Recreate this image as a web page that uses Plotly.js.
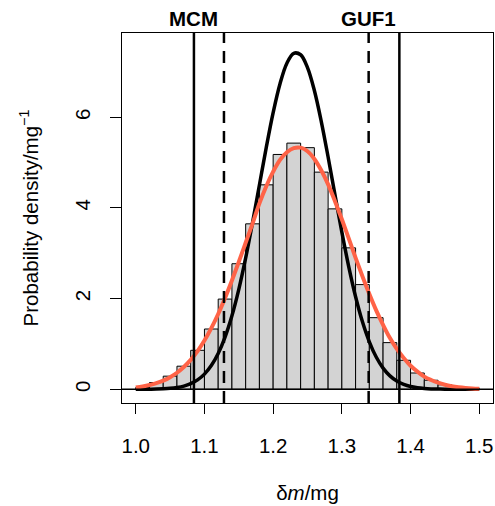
<!DOCTYPE html>
<html>
<head>
<meta charset="utf-8">
<script src="https://cdn.plot.ly/plotly-3.0.1.min.js"></script>
<style>html,body{margin:0;padding:0;background:#fff;}#chart{width:495px;height:506px;}</style>
</head>
<body>
<div id="chart"></div>
<script>
// Histogram bins (left edges) and densities
const binStarts = [1.00,1.02,1.04,1.06,1.08,1.10,1.12,1.14,1.16,1.18,1.20,1.22,1.24,1.26,1.28,1.30,1.32,1.34,1.36,1.38,1.40,1.42,1.44,1.46,1.48];
const binDensity = [0.04,0.15,0.29,0.51,0.86,1.33,1.99,2.77,3.65,4.51,5.18,5.43,5.33,4.79,3.98,3.12,2.31,1.58,1.03,0.64,0.36,0.20,0.10,0.05,0.02];
const binWidth = 0.02;

// Curves
const curveX = [1.00,1.01,1.02,1.03,1.04,1.05,1.06,1.07,1.08,1.09,
                1.10,1.11,1.12,1.13,1.14,1.15,1.16,1.17,1.18,1.19,
                1.20,1.21,1.22,1.23,1.24,1.25,1.26,1.27,1.28,1.29,
                1.30,1.31,1.32,1.33,1.34,1.35,1.36,1.37,1.38,1.39,
                1.40,1.41,1.42,1.43,1.44,1.45,1.46,1.47,1.48,1.49,1.50];
const gufDensity = [0.001,0.001,0.003,0.006,0.011,0.021,0.040,0.071,0.124,0.207,
                    0.335,0.523,0.790,1.151,1.621,2.204,2.897,3.677,4.506,5.335,
                    6.102,6.740,7.193,7.412,7.379,7.096,6.591,5.912,5.124,4.288,
                    3.467,2.708,2.042,1.488,1.048,0.712,0.467,0.296,0.182,0.108,
                    0.061,0.034,0.018,0.009,0.005,0.002,0.001,0.001,0,0,0];
const mcmDensity = [0.043,0.064,0.094,0.135,0.191,0.267,0.365,0.491,0.648,0.842,
                    1.075,1.349,1.662,2.015,2.400,2.811,3.233,3.656,4.10,4.48,
                    4.80,5.06,5.23,5.32,5.33,5.25,5.08,4.83,4.52,4.15,
                    3.75,3.33,2.90,2.49,2.10,1.74,1.42,1.13,0.89,0.69,
                    0.52,0.39,0.28,0.205,0.145,0.10,0.069,0.047,0.031,0.020,0.013];

// Coverage intervals
const mcmInterval = [1.0847, 1.3837];
const gufInterval = [1.1284, 1.3390];
const labels = ["MCM", "GUF1"];

// Ticks
const xTicks = [1.0,1.1,1.2,1.3,1.4,1.5];
const xTickText = ["1.0","1.1","1.2","1.3","1.4","1.5"];
const yTicks = [0,2,4,6];
const yTickText = ["0","2","4","6"];

const FONT = "Liberation Sans, Arial, Helvetica, sans-serif";
const FS = 20.5;

const traces = [
  {
    type: "bar",
    x: binStarts,
    y: binDensity,
    width: binWidth,
    offset: 0,
    marker: {color: "#d3d3d3", line: {color: "#000", width: 1}},
    hoverinfo: "skip"
  },
  {
    type: "scatter", mode: "lines",
    x: curveX, y: gufDensity,
    line: {color: "#000", width: 3.5, shape: "spline"},
    hoverinfo: "skip"
  },
  {
    type: "scatter", mode: "lines",
    x: curveX, y: mcmDensity,
    line: {color: "tomato", width: 4, shape: "spline"},
    hoverinfo: "skip"
  }
];

const shapes = [
  {type: "line", xref: "paper", x0: 0, x1: 1, yref: "y", y0: 0, y1: 0,
   line: {color: "#000", width: 1.5}, layer: "above"}
];
mcmInterval.forEach(v => shapes.push({type: "line", xref: "x", x0: v, x1: v, yref: "paper", y0: 0, y1: 1,
  line: {color: "#000", width: 2.5}, layer: "above"}));
gufInterval.forEach(v => shapes.push({type: "line", xref: "x", x0: v, x1: v, yref: "paper", y0: 0, y1: 1,
  line: {color: "#000", width: 2.5, dash: "12px,8px"}, layer: "above"}));

const annotations = [
  {text: "<b>" + labels[0] + "</b>", xref: "x", x: mcmInterval[0], yref: "paper", y: 1, yshift: 15,
   showarrow: false, font: {family: FONT, size: FS, color: "#000"}, xanchor: "center", yanchor: "middle"},
  {text: "<b>" + labels[1] + "</b>", xref: "x", x: gufInterval[1], yref: "paper", y: 1, yshift: 15,
   showarrow: false, font: {family: FONT, size: FS, color: "#000"}, xanchor: "center", yanchor: "middle"}
];

const layout = {
  width: 495, height: 506,
  margin: {l: 122, r: 2, t: 33, b: 103, pad: 0},
  paper_bgcolor: "#fff", plot_bgcolor: "#fff",
  showlegend: false,
  bargap: 0,
  font: {family: FONT, size: FS, color: "#000"},
  xaxis: {
    range: [0.98, 1.52],
    tickvals: xTicks, ticktext: xTickText,
    ticks: "outside", ticklen: 10, tickwidth: 1, tickcolor: "#000",
    showline: true, mirror: true, linecolor: "#000", linewidth: 1,
    showgrid: false, zeroline: false,
    tickfont: {family: FONT, size: FS, color: "#000"},
    ticklabelstandoff: 14,
    title: {text: "δ<i>m</i>/mg", font: {family: FONT, size: FS, color: "#000"}, standoff: 30}
  },
  yaxis: {
    range: [-0.302, 7.859],
    tickvals: yTicks, ticktext: yTickText,
    ticks: "outside", ticklen: 11, tickwidth: 1, tickcolor: "#000",
    showline: true, mirror: true, linecolor: "#000", linewidth: 1,
    showgrid: false, zeroline: false,
    tickangle: -90,
    tickfont: {family: FONT, size: FS, color: "#000"},
    ticklabelstandoff: 12,
    title: {text: "Probability density/mg<sup>−1</sup>", font: {family: FONT, size: FS, color: "#000"}, standoff: 26}
  },
  shapes: shapes,
  annotations: annotations
};

Plotly.newPlot("chart", traces, layout, {staticPlot: true, displayModeBar: false});
</script>
</body>
</html>
